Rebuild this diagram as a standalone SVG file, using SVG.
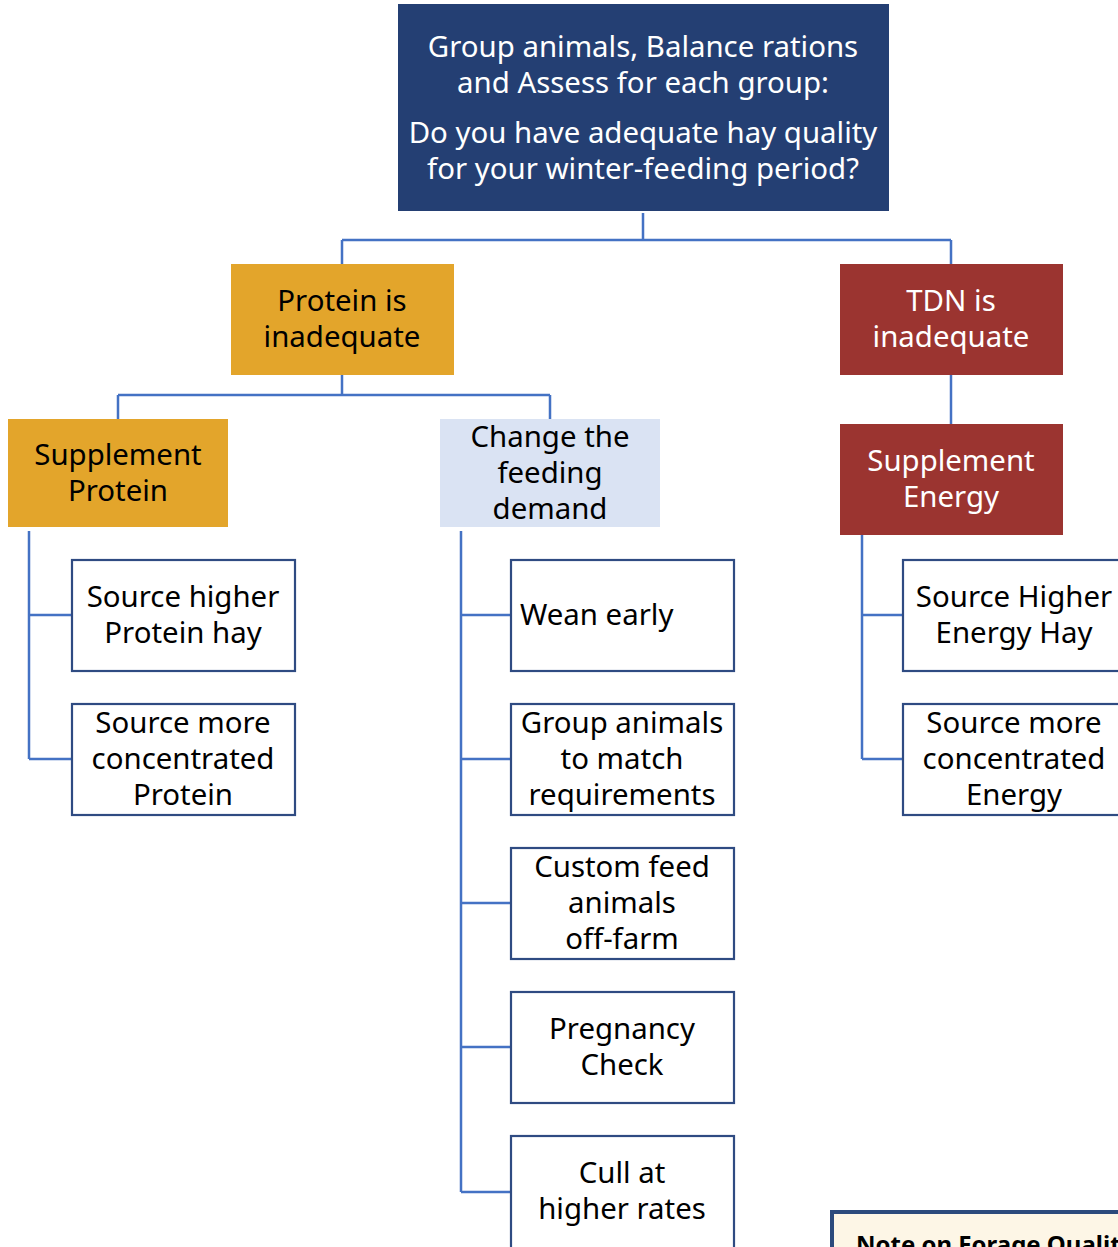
<svg xmlns="http://www.w3.org/2000/svg" width="1118" height="1247" viewBox="0 0 1118 1247">
<style>
text{font-family:"Noto Sans","Open Sans","DejaVu Sans",sans-serif;font-size:29.4px;text-anchor:middle;fill:#000}
.w{fill:#fff}
.leaf{fill:#fff;stroke:#2f4b82;stroke-width:2.2}
.c{fill:none;stroke:#4472c4;stroke-width:2.5}
</style>
<rect width="1118" height="1247" fill="#fff"/>
<g id="connectors">
<path class="c" d="M643 213V240M342 240H951M342 240V264M951 240V264"/>
<path class="c" d="M342 375V395M118 395H550M118 395V419M550 395V419"/>
<path class="c" d="M951 375V424"/>
<path class="c" d="M29 531V759M29 615H72M29 759H72"/>
<path class="c" d="M461 531V1192M461 615H511M461 759H511M461 903H511M461 1047H511M461 1192H511"/>
<path class="c" d="M862 535V759M862 615H903M862 759H903"/>
</g>
<g id="root"><rect x="398" y="4" width="491" height="207" fill="#243f73"/>
<text class="w" x="643" y="57">Group animals, Balance rations</text>
<text class="w" x="643" y="93">and Assess for each group:</text>
<text class="w" x="643" y="143">Do you have adequate hay quality</text>
<text class="w" x="643" y="179">for your winter-feeding period?</text></g>
<g id="protein"><rect x="231" y="264" width="223" height="111" fill="#e3a52b"/>
<text x="342" y="311">Protein is</text><text x="342" y="347">inadequate</text></g>
<g id="tdn"><rect x="840" y="264" width="223" height="111" fill="#9b3430"/>
<text class="w" x="951" y="311">TDN is</text><text class="w" x="951" y="347">inadequate</text></g>
<g id="supprotein"><rect x="8" y="419" width="220" height="108" fill="#e3a52b"/>
<text x="118" y="465">Supplement</text><text x="118" y="501">Protein</text></g>
<g id="change"><rect x="440" y="419" width="220" height="108" fill="#dae3f3"/>
<text x="550" y="447">Change the</text><text x="550" y="483">feeding</text><text x="550" y="519">demand</text></g>
<g id="suppenergy"><rect x="840" y="424" width="223" height="111" fill="#9b3430"/>
<text class="w" x="951" y="471">Supplement</text><text class="w" x="951" y="507">Energy</text></g>
<g id="sp1"><rect class="leaf" x="72" y="560" width="223" height="111"/>
<text x="183" y="607">Source higher</text><text x="183" y="643">Protein hay</text></g>
<g id="sp2"><rect class="leaf" x="72" y="704" width="223" height="111"/>
<text x="183" y="733">Source more</text><text x="183" y="769">concentrated</text><text x="183" y="805">Protein</text></g>
<g id="wean"><rect class="leaf" x="511" y="560" width="223" height="111"/>
<text x="520" y="625" style="text-anchor:start">Wean early</text></g>
<g id="group"><rect class="leaf" x="511" y="704" width="223" height="111"/>
<text x="622" y="733">Group animals</text><text x="622" y="769">to match</text><text x="622" y="805">requirements</text></g>
<g id="custom"><rect class="leaf" x="511" y="848" width="223" height="111"/>
<text x="622" y="877">Custom feed</text><text x="622" y="913">animals</text><text x="622" y="949">off-farm</text></g>
<g id="preg"><rect class="leaf" x="511" y="992" width="223" height="111"/>
<text x="622" y="1039">Pregnancy</text><text x="622" y="1075">Check</text></g>
<g id="cull"><rect class="leaf" x="511" y="1136" width="223" height="120"/>
<text x="622" y="1183">Cull at</text><text x="622" y="1219">higher rates</text></g>
<g id="se1"><rect class="leaf" x="903" y="560" width="223" height="111"/>
<text x="1014" y="607">Source Higher</text><text x="1014" y="643">Energy Hay</text></g>
<g id="se2"><rect class="leaf" x="903" y="704" width="223" height="111"/>
<text x="1014" y="733">Source more</text><text x="1014" y="769">concentrated</text><text x="1014" y="805">Energy</text></g>
<g id="note"><rect x="832" y="1212" width="300" height="60" fill="#fdf6e6" stroke="#2c4a7c" stroke-width="4"/>
<text x="856" y="1253" style="text-anchor:start;font-weight:bold;font-size:24px">Note on Forage Quality</text></g>
</svg>
